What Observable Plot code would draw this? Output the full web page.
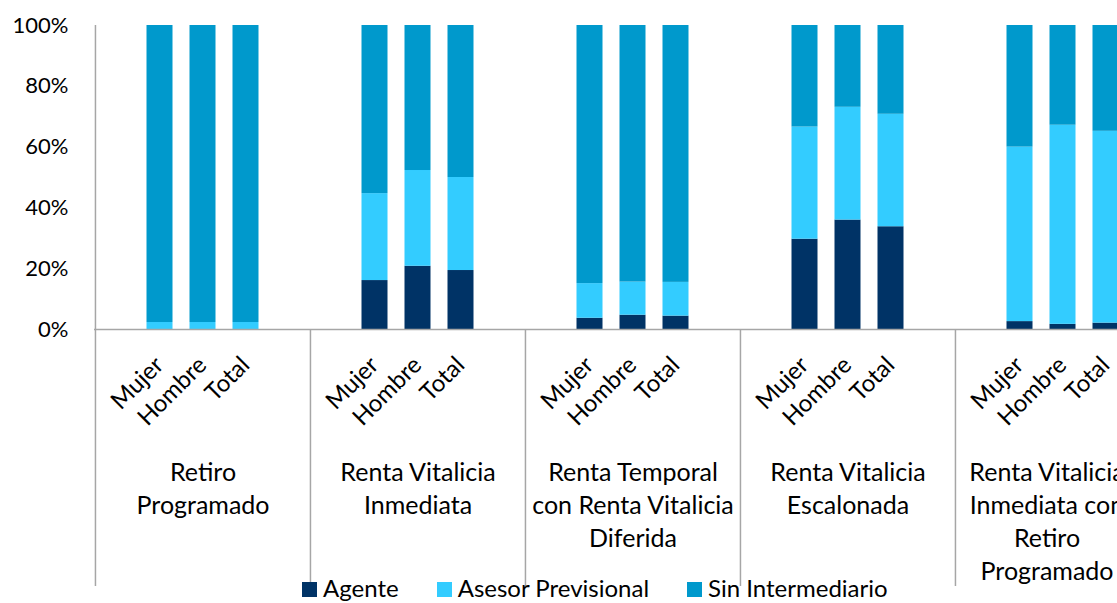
<!DOCTYPE html>
<html>
<head>
<meta charset="utf-8">
<script src="https://cdn.jsdelivr.net/npm/d3@7"></script>
<script src="https://cdn.jsdelivr.net/npm/@observablehq/plot@0.6"></script>
<style>
  html, body { margin: 0; padding: 0; background: #fff; overflow: hidden; }
  #wrap { position: relative; width: 1117px; height: 603px; overflow: hidden; }
  #chart svg { max-width: none !important; width: 1180px; height: 603px; }
  #legend { position: absolute; left: 302px; top: 574px; display: flex; font-family: Lato, sans-serif; font-size: 24px; line-height: 28px; color: #000; white-space: nowrap; }
  #legend .item { margin-right: 38px; }
  #legend .sw { display: inline-block; width: 15px; height: 15px; margin-right: 6px; vertical-align: baseline; }
</style>
</head>
<body>
<div id="wrap"><div id="chart"></div><div id="legend"></div></div>
<script>
// ---- data ----
const groups = [
  "Retiro\nProgramado",
  "Renta Vitalicia\nInmediata",
  "Renta Temporal\ncon Renta Vitalicia\nDiferida",
  "Renta Vitalicia\nEscalonada",
  "Renta Vitalicia\nInmediata con\nRetiro\nProgramado"
];
const sexes = ["Mujer", "Hombre", "Total"];
const series = ["Agente", "Asesor Previsional", "Sin Intermediario"];
const colors = ["#003366", "#33CCFF", "#0099CC"];
// values in % per group: [Mujer, Hombre, Total]
const agente = [[0, 0, 0], [16.1, 20.8, 19.4], [3.7, 4.7, 4.4], [29.7, 36.0, 33.8], [2.6, 1.7, 2.1]];
const asesor = [[2.3, 2.3, 2.3], [28.6, 31.5, 30.6], [11.4, 10.9, 11.1], [36.9, 37.1, 37.0], [57.4, 65.5, 63.1]];
const sinInt = [[97.7, 97.7, 97.7], [55.3, 47.7, 50.0], [84.9, 84.4, 84.5], [33.4, 26.9, 29.2], [40.0, 32.8, 34.8]];
const yTicks = [0, 20, 40, 60, 80, 100];

// ---- build tables ----
const seriesValues = [agente, asesor, sinInt];
const slots = [];
groups.forEach((g, gi) => {
  slots.push(gi + "|pre");
  sexes.forEach(s => slots.push(gi + "|" + s));
  slots.push(gi + "|post");
});
const rows = [];
series.forEach((name, k) => {
  groups.forEach((g, gi) => {
    sexes.forEach((s, si) => {
      rows.push({slot: gi + "|" + s, serie: name, value: seriesValues[k][gi][si]});
    });
  });
});
const sexLabels = [];
groups.forEach((g, gi) => sexes.forEach(s => sexLabels.push({slot: gi + "|" + s, label: s})));
const groupRows = groups.map((g, gi) => ({slot: gi + "|Hombre", label: g, gi}));

const W = 1180, step = (W - 94 - 9) / slots.length;
const gray = "#a6a6a6";

const chart = Plot.plot({
  width: W,
  height: 603,
  marginLeft: 94,
  marginRight: 9,
  marginTop: 25,
  marginBottom: 274,
  style: {fontFamily: "Lato, sans-serif", fontSize: "22px", color: "#000", background: "transparent", overflow: "visible", maxWidth: "none"},
  x: {type: "band", domain: slots, padding: 0, axis: null},
  y: {domain: [0, 100], ticks: yTicks, tickFormat: d => d + "%", tickSize: 0, tickPadding: 26, label: null},
  color: {domain: series, range: colors},
  marks: [
    Plot.barY(rows, {x: "slot", y: "value", fill: "serie", order: series, insetLeft: 8.5, insetRight: 8.5}),
    Plot.ruleY([0], {stroke: gray, strokeWidth: 1.5}),
    Plot.ruleX(groupRows.slice(0, 1), {x: d => d.gi + "|pre", dx: -step / 2, y1: 100, y2: 0, insetBottom: -257, stroke: gray, strokeWidth: 1.5}),
    Plot.ruleX(groupRows.slice(1), {x: d => d.gi + "|pre", dx: -step / 2, y1: 0, y2: 0, insetBottom: -257, stroke: gray, strokeWidth: 1.5}),
    Plot.text(sexLabels, {x: "slot", text: "label", fontSize: 24, frameAnchor: "bottom", textAnchor: "end", lineAnchor: "bottom", rotate: -45, dx: 5, dy: 37}),
    Plot.text(groupRows.slice(0, 4), {x: "slot", text: "label", fontSize: 25, frameAnchor: "bottom", lineAnchor: "top", dy: 128, lineHeight: 1.32}),
    Plot.text(groupRows.slice(4), {x: "slot", text: "label", fontSize: 25, frameAnchor: "bottom", lineAnchor: "top", dy: 128, dx: -16, lineHeight: 1.32})
  ]
});
document.getElementById("chart").appendChild(chart);

const legend = document.getElementById("legend");
series.forEach((s, i) => {
  const item = document.createElement("span");
  item.className = "item";
  const sw = document.createElement("span");
  sw.className = "sw";
  sw.style.background = colors[i];
  item.appendChild(sw);
  item.appendChild(document.createTextNode(s));
  legend.appendChild(item);
});
</script>
</body>
</html>
